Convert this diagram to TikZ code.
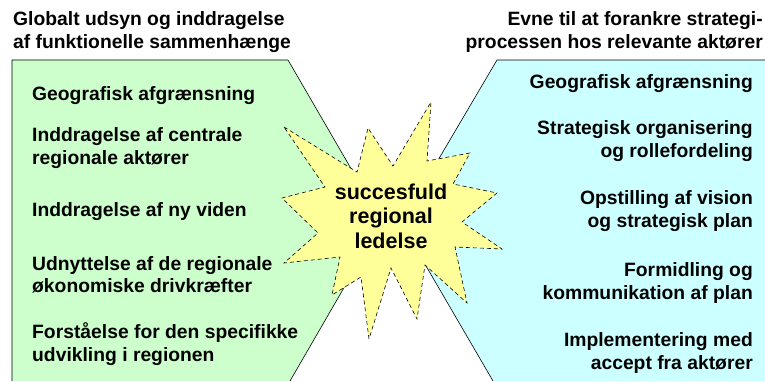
\documentclass[tikz,border=0pt]{standalone}
\usepackage{fontspec}
\setmainfont{Liberation Sans}
\usetikzlibrary{shapes,positioning}
\definecolor{leftgreen}{RGB}{204,255,204}
\definecolor{rightcyan}{RGB}{204,255,255}
\definecolor{staryellow}{RGB}{255,255,153}

\begin{document}
\begin{tikzpicture}[x=1pt, y=-1pt, every node/.style={font=\fontsize{19.3}{22.5}\selectfont\bfseries, inner sep=0pt}]
    \useasboundingbox (0,0) rectangle (765,381);
    \fill[leftgreen] (12,60) -- (288,60) -- (382,222) -- (290,381) -- (12,381) -- cycle;
    \draw[semithick] (12,381) -- (12,60) -- (288,60) -- (382,222) -- (290,381);
    \fill[rightcyan] (497,60) -- (765,60) -- (765,381) -- (493,381) -- (401,223) -- cycle;
    \draw[semithick] (765,60) -- (497,60) -- (401,223) -- (493,381);
    \filldraw[fill=staryellow, draw=black, semithick, dash pattern=on 4pt off 3pt]
        (284,127) -- (357,172) -- (368,128) -- (393,166) -- (431,102) -- (427,161)
        -- (470,153) -- (453,184) -- (497,193) -- (462,222) -- (502,249) -- (455,247)
        -- (467,303) -- (425,265) -- (417,319) -- (391,268) -- (369,339) -- (361,277)
        -- (332,295) -- (340,257) -- (284,263) -- (318,233) -- (282,198) -- (325,187) -- cycle;
    \node (core) at (391,216) [align=center, font=\fontsize{21.5}{24.5}\selectfont\bfseries] {succesfuld\\regional\\ledelse};
    \node (lefttitle) at (13,32) [anchor=west, align=left] {Globalt udsyn og inddragelse\\af funktionelle sammenhænge};
    \node (righttitle) at (763,32) [anchor=east, align=right] {Evne til at forankre strategi-\\processen hos relevante aktører};
    \node (geoleft) at (32,96) [anchor=west, align=left] {Geografisk afgrænsning};
    \node (actors) at (32,148) [anchor=west, align=left] {Inddragelse af centrale\\regionale aktører};
    \node (knowledge) at (32,212) [anchor=west, align=left] {Inddragelse af ny viden};
    \node (forces) at (32,275) [anchor=west, align=left] {Udnyttelse af de regionale\\økonomiske drivkræfter};
    \node (insight) at (32,344) [anchor=west, align=left] {Forståelse for den specifikke\\udvikling i regionen};
    \node (georight) at (753,84) [anchor=east, align=right] {Geografisk afgrænsning};
    \node (roles) at (753,141) [anchor=east, align=right] {Strategisk organisering\\og rollefordeling};
    \node (vision) at (753,211) [anchor=east, align=right] {Opstilling af vision\\og strategisk plan};
    \node (communication) at (753,283) [anchor=east, align=right] {Formidling og\\kommunikation af plan};
    \node (acceptance) at (753,353) [anchor=east, align=right] {Implementering med\\accept fra aktører};
\end{tikzpicture}
\end{document}
